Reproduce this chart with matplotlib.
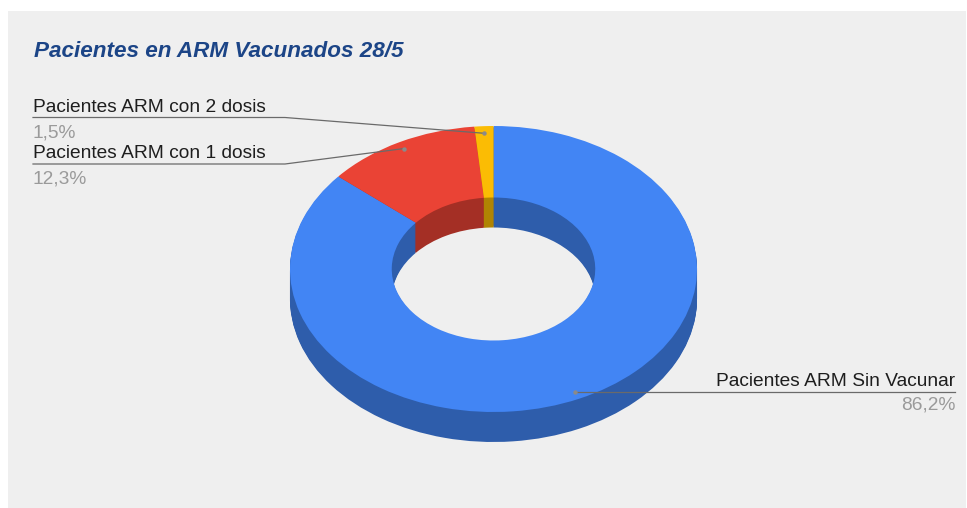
import matplotlib
matplotlib.use("Agg")
import matplotlib.pyplot as plt
import numpy as np
from matplotlib.patches import Rectangle

# ---- data ----
categories = ["Pacientes ARM Sin Vacunar", "Pacientes ARM con 1 dosis", "Pacientes ARM con 2 dosis"]
values = [86.2, 12.3, 1.5]
pct_labels = ["86,2%", "12,3%", "1,5%"]
title = "Pacientes en ARM Vacunados 28/5"

colors_top = ["#4285f4", "#ea4335", "#fbbc04"]
colors_side = ["#2e5dab", "#a42f25", "#b08403"]

plt.rcParams['font.family'] = ['Liberation Sans', 'DejaVu Sans']

W, H = 967, 508
fig = plt.figure(figsize=(W / 100, H / 100), dpi=100)
fig.patch.set_facecolor("white")
fig.patches.append(Rectangle((8 / W, 0), (966 - 8) / W, (H - 11) / H,
                             transform=fig.transFigure, facecolor="#efefef",
                             edgecolor="none", zorder=-10))

ax = fig.add_axes([0, 0, 1, 1])
ax.set_facecolor("none")
ax.set_zorder(1)

# pixel geometry of the donut
CX, CY, RX, RY, DEPTH = 493.5, 269.0, 203.5, 143.0, 30.0
HOLE = 0.5


def P(px, py):
    return ((px - CX) / RX, (CY - py) / RY)


# side (stacked darker layers), deepest first
steps = 30
for k in range(steps, 0, -1):
    off = DEPTH * k / steps / RY
    ax.pie(values, colors=colors_side, startangle=90, counterclock=False,
           radius=1.0, center=(0, -off),
           wedgeprops=dict(width=1 - HOLE, edgecolor="none", linewidth=0))
# top face
ax.pie(values, colors=colors_top, startangle=90, counterclock=False,
       radius=1.0, center=(0, 0),
       wedgeprops=dict(width=1 - HOLE, edgecolor="none", linewidth=0))

ax.set_aspect("auto")
ax.set_xlim((0 - CX) / RX, (W - CX) / RX)
ax.set_ylim((CY - H) / RY, CY / RY)
ax.axis("off")

# leader dot positions at slice mid-angles
total = sum(values)
cum = np.cumsum([0] + values)
mids = [(cum[i] + values[i] / 2) / total for i in range(len(values))]
dots = []
for m in mids:
    ang = np.deg2rad(90 - 360 * m)
    dots.append((0.95 * np.cos(ang), 0.95 * np.sin(ang)))

line_c = "#6a6a6a"
lbl_fs = 13.8
pct_c = "#9a9a9a"
lbl_c = "#1e1e1e"

# title
tx, ty = P(34, 57)
ax.text(tx, ty, title, fontsize=16.2, fontweight="bold", fontstyle="italic",
        color="#1c4587", ha="left", va="baseline")

# left labels: (index, baseline label, underline y, pct baseline)
left_specs = [(2, 112, 117.5, 137), (1, 158, 164, 183)]
for idx, lb, uy, pb in left_specs:
    x0, y0 = P(33, lb)
    ax.text(x0, y0, categories[idx], fontsize=lbl_fs, color=lbl_c,
            ha="left", va="baseline")
    x1, y1 = P(33, pb)
    ax.text(x1, y1, pct_labels[idx], fontsize=lbl_fs, color=pct_c,
            ha="left", va="baseline")
    a = P(33, uy)
    b = P(285, uy)
    d = dots[idx]
    ax.plot([a[0], b[0], d[0]], [a[1], b[1], d[1]], color=line_c, lw=0.9,
            solid_joinstyle="miter")
    ax.plot([d[0]], [d[1]], "o", ms=3.2, color="#8a8a8a", mec="none")

# right label
d = dots[0]
xr, _ = P(955, 0)
ax.plot([d[0], xr], [d[1], d[1]], color=line_c, lw=0.9)
ax.plot([d[0]], [d[1]], "o", ms=3.2, color="#8a8a8a", mec="none")
x0, y0 = P(955, 386)
ax.text(x0, y0, categories[0], fontsize=lbl_fs, color=lbl_c,
        ha="right", va="baseline")
x1, y1 = P(955, 410)
ax.text(x1, y1, pct_labels[0], fontsize=lbl_fs, color=pct_c,
        ha="right", va="baseline")

fig.savefig("out.png", dpi=100, facecolor=fig.get_facecolor())
